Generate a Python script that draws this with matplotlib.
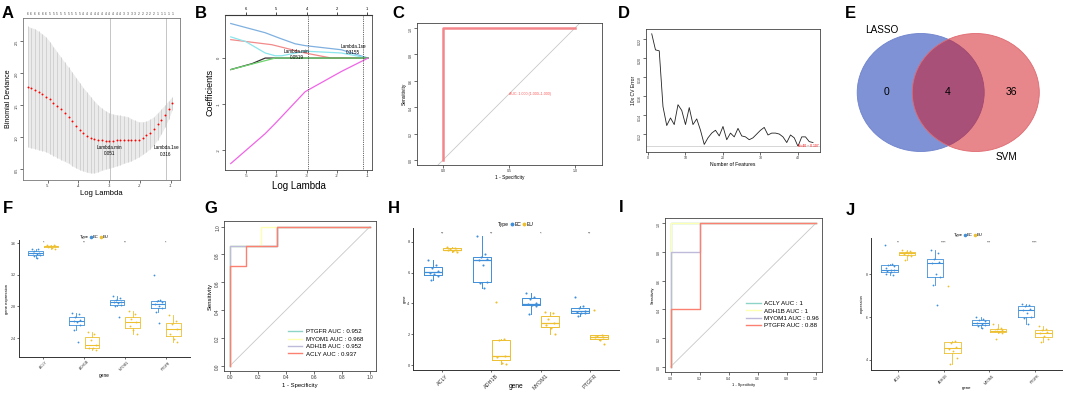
import numpy as np
import matplotlib
matplotlib.use("Agg")
import matplotlib.pyplot as plt
from matplotlib.patches import Ellipse
from matplotlib.lines import Line2D
import matplotlib.transforms as mtransforms

plt.rcParams['font.family'] = ['Liberation Sans', 'DejaVu Sans']
plt.rcParams['axes.unicode_minus'] = False

# ---------------- data ----------------
# A: cv.glmnet binomial deviance
a_loglam = [-5.65, -5.53, -5.41, -5.29, -5.17, -5.05, -4.93, -4.81, -4.69, -4.57,
            -4.45, -4.32, -4.20, -4.08, -3.96, -3.84, -3.72, -3.60, -3.48, -3.36,
            -3.24, -3.12, -3.00, -2.88, -2.76, -2.64, -2.52, -2.40, -2.28, -2.16,
            -2.04, -1.91, -1.79, -1.67, -1.55, -1.43, -1.31, -1.19, -1.07, -0.95]
a_dev = [1.79, 1.76, 1.73, 1.70, 1.67, 1.63, 1.59, 1.54, 1.49, 1.44,
         1.38, 1.32, 1.25, 1.18, 1.11, 1.06, 1.02, 0.99, 0.97, 0.96,
         0.95, 0.94, 0.94, 0.94, 0.95, 0.96, 0.96, 0.95, 0.95, 0.95,
         0.96, 0.99, 1.03, 1.07, 1.13, 1.20, 1.27, 1.35, 1.44, 1.53]
a_up = [2.73, 2.71, 2.69, 2.65, 2.61, 2.56, 2.49, 2.41, 2.33, 2.25,
        2.17, 2.09, 2.01, 1.93, 1.85, 1.77, 1.70, 1.63, 1.56, 1.50,
        1.45, 1.41, 1.38, 1.36, 1.35, 1.34, 1.33, 1.32, 1.29, 1.26,
        1.24, 1.24, 1.25, 1.28, 1.32, 1.38, 1.44, 1.50, 1.57, 1.63]
a_low = [0.85, 0.83, 0.82, 0.80, 0.79, 0.77, 0.74, 0.71, 0.68, 0.65,
         0.62, 0.59, 0.55, 0.52, 0.49, 0.47, 0.45, 0.44, 0.44, 0.46,
         0.48, 0.50, 0.51, 0.53, 0.55, 0.57, 0.59, 0.61, 0.63, 0.66,
         0.69, 0.73, 0.77, 0.82, 0.88, 0.96, 1.05, 1.16, 1.29, 1.43]
a_nz = [6, 6, 6, 6, 6, 6, 5, 5, 5, 5, 5, 5, 5, 5, 5, 4, 4, 4, 4, 4,
        4, 4, 4, 4, 4, 4, 3, 3, 3, 3, 2, 2, 2, 2, 2, 1, 1, 1, 1, 1]
a_lambda_min, a_lambda_1se = 0.051, 0.316

# B: coefficient paths
b_paths = {
    "blue":    ([-5.51, -4.37, -3.93, -3.38, -3.05, -1.85, -0.97], [0.75, 0.55, 0.44, 0.31, 0.27, 0.18, 0.0]),
    "salmon":  ([-5.51, -4.15, -3.05, -2.18, -0.97], [0.40, 0.29, 0.11, 0.0, 0.0]),
    "cyan":    ([-5.51, -5.02, -4.37, -4.04, -3.82, -3.05, -1.85, -0.97], [0.46, 0.36, 0.11, 0.05, 0.05, 0.15, 0.11, 0.0]),
    "black":   ([-5.51, -4.80, -4.37, -0.97], [-0.25, -0.12, 0.0, 0.0]),
    "green":   ([-5.51, -4.04, -0.97], [-0.25, 0.0, 0.0]),
    "magenta": ([-5.51, -4.37, -4.04, -3.05, -1.85, -0.97], [-2.29, -1.64, -1.42, -0.73, -0.29, 0.0]),
}
b_colors = {"blue": "#7FB0E0", "salmon": "#F28A8A", "cyan": "#8BE6EE",
            "black": "#333333", "green": "#6FD66F", "magenta": "#F064E6"}
b_top_ticks = [-5, -4, -3, -2, -1]
b_top_labels = ["6", "5", "4", "2", "1"]
b_lambda_min, b_lambda_1se = 0.0519, 0.3155

# C: ROC
c_fpr = [0.0, 0.0, 1.0]
c_tpr = [0.0, 1.0, 1.0]
c_auc = "AUC: 1.000 (1.000\u20131.000)"

# D: SVM-RFE
d_n = list(range(1, 45))
d_err = [0.226, 0.209, 0.208, 0.149, 0.129, 0.137, 0.130, 0.151, 0.145, 0.130,
         0.148, 0.130, 0.136, 0.124, 0.109, 0.116, 0.121, 0.124, 0.118, 0.128,
         0.114, 0.121, 0.117, 0.126, 0.118, 0.117, 0.114, 0.116, 0.120, 0.124,
         0.127, 0.119, 0.121, 0.121, 0.120, 0.117, 0.111, 0.119, 0.116, 0.107,
         0.117, 0.117, 0.112, 0.111]

# E: Venn
e_sets = ["LASSO", "SVM"]
e_counts = [0, 4, 36]

genes = ["ACLY", "ADH1B", "MYOM1", "PTGFR"]

# F
f_ec = [[3.53, 3.52, 3.50, 3.47, 3.47, 3.46, 3.45, 3.43, 3.41],
        [2.72, 2.70, 2.66, 2.63, 2.61, 2.60, 2.57, 2.50, 2.35],
        [2.93, 2.90, 2.88, 2.86, 2.85, 2.84, 2.82, 2.80, 2.66],
        [3.19, 2.88, 2.87, 2.85, 2.83, 2.80, 2.78, 2.73, 2.59]]
f_eu = [[3.58, 3.57, 3.56, 3.56, 3.55, 3.54, 3.53],
        [2.48, 2.45, 2.37, 2.31, 2.28, 2.27, 2.25],
        [2.74, 2.70, 2.64, 2.60, 2.55, 2.50, 2.45],
        [2.69, 2.61, 2.58, 2.52, 2.45, 2.39, 2.35]]
f_sig = ["*", "**", "**", "*"]

# G
g_names = ["PTGFR", "MYOM1", "ADH1B", "ACLY"]
g_auc = ["0.952", "0.968", "0.952", "0.937"]
g_fpr = [[0, 0, 0.333, 0.333, 1], [0, 0, 0.222, 0.222, 1],
         [0, 0, 0.333, 0.333, 1], [0, 0, 0.111, 0.111, 0.333, 0.333, 1]]
g_tpr = [[0, 0.857, 0.857, 1, 1], [0, 0.857, 0.857, 1, 1],
         [0, 0.857, 0.857, 1, 1], [0, 0.714, 0.714, 0.857, 0.857, 1, 1]]
roc_colors = ["#8DD3C7", "#FFFFB3", "#BEBADA", "#FB8072"]

# H
h_ec = [[6.8, 6.5, 6.3, 6.1, 6.0, 5.9, 5.8, 5.5],
        [8.4, 7.2, 7.0, 6.9, 6.85, 6.5, 5.4, 5.3, 5.0],
        [4.7, 4.4, 4.3, 4.0, 3.95, 3.9, 3.85, 3.3],
        [4.45, 3.85, 3.7, 3.5, 3.46, 3.4, 3.36, 3.2]]
h_eu = [[7.65, 7.6, 7.55, 7.5, 7.5, 7.4, 7.35],
        [4.1, 1.7, 1.6, 0.6, 0.55, 0.15, 0.1],
        [3.42, 3.35, 3.0, 2.7, 2.6, 2.4, 2.0],
        [3.6, 1.97, 1.9, 1.85, 1.8, 1.65, 1.4]]
h_sig = ["**", "**", "*", "**"]

# I
i_names = ["ACLY", "ADH1B", "MYOM1", "PTGFR"]
i_auc = ["1", "1", "0.96", "0.88"]
i_fpr = [[0, 0, 1], [0, 0, 1], [0, 0, 0.2, 0.2, 1], [0, 0, 0.2, 0.2, 1]]
i_tpr = [[0, 1, 1], [0, 1, 1], [0, 0.8, 0.8, 1, 1], [0, 0.4, 0.4, 1, 1]]

# J
j_ec = [[9.37, 8.5, 8.45, 8.4, 8.3, 8.2, 8.2, 8.15, 8.1, 8.0, 7.95],
        [9.13, 9.0, 8.7, 8.6, 8.54, 8.0, 7.9, 7.5, 6.57],
        [6.0, 5.9, 5.85, 5.8, 5.75, 5.7, 5.65, 5.6, 5.5],
        [6.63, 6.55, 6.5, 6.4, 6.35, 6.2, 6.0, 5.95, 5.7]]
j_eu = [[9.15, 9.1, 9.05, 9.0, 8.96, 8.9, 8.85, 8.65],
        [7.47, 4.9, 4.8, 4.6, 4.5, 4.4, 4.1, 3.8],
        [5.7, 5.5, 5.45, 5.4, 5.35, 5.3, 5.25, 5.0],
        [5.6, 5.45, 5.4, 5.3, 5.25, 5.1, 5.0, 4.85]]
j_sig = ["**", "****", "***", "****"]

EC = "#3F8FDB"
EU = "#EEBF2F"

# ---------------- figure ----------------
W, H = 1065, 393
fig = plt.figure(figsize=(W / 100, H / 100), dpi=100)


def box(l, t, r, b):
    return fig.add_axes([l / W, 1 - b / H, (r - l) / W, (b - t) / H])


def rstyle(ax, fs, col="#444444"):
    for s in ax.spines.values():
        s.set_linewidth(0.6)
        s.set_color(col)
    ax.tick_params(length=2, width=0.5, labelsize=fs, pad=1, colors="#333333")
    ax.tick_params(axis="y", labelrotation=90)


def ggstyle(ax, fs_x, fs_y):
    for s in ["top", "right"]:
        ax.spines[s].set_visible(False)
    for s in ["left", "bottom"]:
        ax.spines[s].set_linewidth(0.7)
        ax.spines[s].set_color("#333333")
    ax.tick_params(length=1.5, width=0.5, pad=1, colors="#333333")
    ax.tick_params(axis="x", labelsize=fs_x)
    ax.tick_params(axis="y", labelsize=fs_y)


jit = [-0.10, 0.06, -0.03, 0.09, -0.07, 0.02, 0.10, -0.05, 0.04, -0.09, 0.07]


def ggbox(ax, ec, eu, sig, sig_y, ms, lw, fs_sig, leg_x, fs_leg):
    for gi in range(len(genes)):
        for vals, col, off in ((ec[gi], EC, -0.19), (eu[gi], EU, 0.19)):
            p = gi + 1 + off
            ax.boxplot(vals, positions=[p], widths=0.36, showfliers=False,
                       manage_ticks=False,
                       boxprops=dict(color=col, lw=lw),
                       whiskerprops=dict(color=col, lw=lw),
                       capprops=dict(lw=0),
                       medianprops=dict(color=col, lw=lw * 1.3))
            ax.plot([p + jit[k] for k in range(len(vals))], vals, ls="none",
                    marker="o", ms=ms, color=col, mew=0)
        ax.text(gi + 1, sig_y, sig[gi], ha="center", va="center",
                fontsize=fs_sig, color="#333333")
    ax.set_xlim(0.4, 4.6)
    ax.set_xticks(range(1, 5))
    ax.set_xticklabels(genes, rotation=45, ha="center")
    handles = [Line2D([], [], ls="none", label="Type"),
               Line2D([], [], ls="none", marker="o", ms=ms * 1.2, color=EC, label="EC"),
               Line2D([], [], ls="none", marker="o", ms=ms * 1.2, color=EU, label="EU")]
    ax.legend(handles=handles, ncol=3, loc="lower center",
              bbox_to_anchor=(leg_x, 1.0), frameon=False, fontsize=fs_leg,
              handlelength=0.5, handletextpad=0.2, columnspacing=0.3,
              borderaxespad=0.1, borderpad=0.1)


# panel letters
for s, (x, y) in {"A": (2, 18), "B": (195, 18), "C": (392, 18), "D": (618, 18),
                  "E": (845, 18), "F": (3, 213), "G": (204, 213), "H": (388, 213),
                  "I": (619, 212), "J": (846, 215)}.items():
    fig.text(x / W, 1 - y / H, s, fontsize=12, fontweight="bold", va="baseline")

# ---- A ----
ax = box(23, 18, 180, 180)
a_dev_arr = np.array(a_dev)
ax.fill_between(a_loglam, a_low, a_up, color="#EBEBEB", lw=0)
ax.errorbar(a_loglam, a_dev, yerr=[a_dev_arr - np.array(a_low), np.array(a_up) - a_dev_arr],
            fmt="o", ms=1.4, mew=0, color="red", ecolor="#D2D2D2",
            elinewidth=0.7, capsize=1.6, capthick=0.8, zorder=3)
ax.axvline(np.log(a_lambda_min), color="#BBBBBB", lw=0.6)
ax.axvline(np.log(a_lambda_1se), color="#BBBBBB", lw=0.6)
ax.text(np.log(a_lambda_min), 0.79, "Lambda.min\n%.3f" % a_lambda_min, ha="center",
        va="center", fontsize=3.3, linespacing=1.4)
ax.text(np.log(a_lambda_1se), 0.78, "Lambda.1se\n%.3f" % a_lambda_1se, ha="center",
        va="center", fontsize=3.3, linespacing=1.4)
trans = mtransforms.blended_transform_factory(ax.transData, ax.transAxes)
for x, n in zip(a_loglam, a_nz):
    ax.text(x, 1.012, str(n), transform=trans, fontsize=2.4, ha="center", va="bottom",
            color="#444444")
ax.set_xlim(-5.8, -0.7)
ax.set_ylim(0.33, 2.86)
ax.set_xticks([-5, -4, -3, -2, -1])
ax.set_yticks([0.5, 1.0, 1.5, 2.0, 2.5])
ax.set_yticklabels(["0.5", "1.0", "1.5", "2.0", "2.5"])
rstyle(ax, 2.8, "#777777")
ax.set_xlabel("Log Lambda", fontsize=5.5, labelpad=1.5)
ax.set_ylabel("Binomial Deviance", fontsize=5, labelpad=2)

# ---- B ----
ax = box(225, 15, 372, 170)
for k, (xs, ys) in b_paths.items():
    ax.plot(xs, ys, color=b_colors[k], lw=0.9)
ax.axvline(np.log(b_lambda_min), color="#333333", lw=0.6, ls=(0, (1, 1.2)))
ax.axvline(np.log(b_lambda_1se), color="#333333", lw=0.6, ls=(0, (1, 1.2)))
ax.text(-3.33, 0.076, "Lambda.min\n%.4f" % b_lambda_min, ha="center", va="center",
        fontsize=3.3, linespacing=1.4)
ax.text(-1.46, 0.185, "Lambda.1se\n%.4f" % b_lambda_1se, ha="center", va="center",
        fontsize=3.3, linespacing=1.4)
ax.set_xlim(-5.7, -0.84)
ax.set_ylim(-2.43, 0.935)
ax.set_xticks([-5, -4, -3, -2, -1])
ax.set_yticks([-2, -1, 0])
rstyle(ax, 3)
sec = ax.secondary_xaxis("top")
sec.set_xticks(b_top_ticks)
sec.set_xticklabels(b_top_labels)
sec.tick_params(length=2, width=0.5, labelsize=3, pad=1)
ax.set_xlabel("Log Lambda", fontsize=7, labelpad=2)
ax.set_ylabel("Coefficients", fontsize=6.5, labelpad=2)

# ---- C ----
ax = box(417, 23, 602, 165)
ax.axline((0, 0), slope=1, color="#C8C8C8", lw=0.6)
ax.plot(c_fpr, c_tpr, color="#F4868A", lw=1.8)
ax.text(0.5, 0.5, c_auc, ha="left", va="center", fontsize=2.6, color="#FF5555")
ax.set_xlim(-0.197, 1.205)
ax.set_ylim(-0.038, 1.038)
ax.set_xticks([0, 0.5, 1.0])
ax.set_xticklabels(["0.0", "0.5", "1.0"])
ax.set_yticks([0, 0.2, 0.4, 0.6, 0.8, 1.0])
ax.set_yticklabels(["0.0", "0.2", "0.4", "0.6", "0.8", "1.0"])
rstyle(ax, 2.6)
ax.set_xlabel("1 - Specificity", fontsize=3.5, labelpad=1.5)
ax.set_ylabel("Sensitivity", fontsize=3.5, labelpad=1.5)

# ---- D ----
ax = box(646, 29, 820, 152)
ax.plot(d_n, d_err, color="#222222", lw=0.6)
imin = int(np.argmin(d_err))
ax.axhline(d_err[imin], color="#D0D0D0", lw=0.6)
ax.text(d_n[imin], d_err[imin], "N=%d ~ %.3f" % (d_n[imin], d_err[imin]), ha="left",
        va="center", fontsize=2.4, color="red")
ax.set_xlim(-0.53, 45.87)
ax.set_ylim(0.101, 0.2311)
ax.set_xticks([0, 10, 20, 30, 40])
ax.set_yticks([0.12, 0.14, 0.16, 0.18, 0.20, 0.22])
ax.set_yticklabels(["0.12", "0.14", "0.16", "0.18", "0.20", "0.22"])
rstyle(ax, 2.6)
ax.set_xlabel("Number of Features", fontsize=3.6, labelpad=1.5)
ax.set_ylabel("10x CV Error", fontsize=3.6, labelpad=1.5)

# ---- E ----
ax = box(840, 0, 1065, 195)
ax.set_xlim(840, 1065)
ax.set_ylim(195, 0)
ax.axis("off")
ax.add_patch(Ellipse((920.7, 92.5), 127, 118, facecolor="#7F92D6", edgecolor="#6F83CC", lw=0.6))
ax.add_patch(Ellipse((975.8, 92.5), 127, 118, facecolor=(209/255, 15/255, 25/255, 0.5),
                     edgecolor="#E06A70", lw=0.6))
ax.text(886, 92, str(e_counts[0]), ha="center", va="center", fontsize=7.5)
ax.text(947.5, 92, str(e_counts[1]), ha="center", va="center", fontsize=7.5)
ax.text(1011, 92, str(e_counts[2]), ha="center", va="center", fontsize=7.5)
ax.text(882, 30, e_sets[0], ha="center", va="center", fontsize=7.2)
ax.text(1006, 157, e_sets[1], ha="center", va="center", fontsize=7.2)

# ---- F ----
ax = box(19, 240, 190, 357)
ggbox(ax, f_ec, f_eu, f_sig, 3.6, 1.3, 0.6, 2.6, 0.43, 3.0)
ax.set_ylim(2.16, 3.638)
ax.set_yticks([2.4, 2.8, 3.2, 3.6])
ggstyle(ax, 2.4, 2.6)
ax.set_xlabel("gene", fontsize=3.4, labelpad=0.5)
ax.set_ylabel("gene expression", fontsize=3.0, labelpad=1)

# ---- G ----
ax = box(224.4, 221, 375.6, 371.3)
ax.plot([0, 1], [0, 1], color="#C8C8C8", lw=0.6)
for k in range(4):
    ax.plot(g_fpr[k], g_tpr[k], color=roc_colors[k], lw=1.0,
            label="%s AUC : %s" % (g_names[k], g_auc[k]))
ax.legend(loc="center left", bbox_to_anchor=(0.42, 0.19), frameon=False, fontsize=4.4,
          handlelength=2.3, handletextpad=0.6, labelspacing=0.35, borderpad=0,
          borderaxespad=0)
ax.set_xlim(-0.04, 1.04)
ax.set_ylim(-0.04, 1.04)
tk = [0, 0.2, 0.4, 0.6, 0.8, 1.0]
tl = ["0.0", "0.2", "0.4", "0.6", "0.8", "1.0"]
ax.set_xticks(tk)
ax.set_xticklabels(tl)
ax.set_yticks(tk)
ax.set_yticklabels(tl)
rstyle(ax, 3.4)
ax.set_xlabel("1 - Specificity", fontsize=4.2, labelpad=1.5)
ax.set_ylabel("Sensitivity", fontsize=4.2, labelpad=2)

# ---- H ----
ax = box(413, 228, 619, 370)
ggbox(ax, h_ec, h_eu, h_sig, 8.5, 1.5, 0.7, 3.0, 0.49, 3.6)
ax.set_ylim(-0.32, 8.9)
ax.set_yticks([0, 2, 4, 6, 8])
ggstyle(ax, 3.9, 2.8)
ax.set_xlabel("gene", fontsize=4.8, labelpad=0)
ax.xaxis.set_label_coords(0.5, -0.09)
ax.set_ylabel("gene", fontsize=2.8, labelpad=0.5)

# ---- I ----
ax = box(664.9, 217.6, 821.5, 372.4)
ax.plot([0, 1], [0, 1], color="#C8C8C8", lw=0.6)
for k in range(4):
    ax.plot(i_fpr[k], i_tpr[k], color=roc_colors[k], lw=1.0,
            label="%s AUC : %s" % (i_names[k], i_auc[k]))
ax.legend(loc="center left", bbox_to_anchor=(0.52, 0.374), frameon=False, fontsize=4.5,
          handlelength=2.3, handletextpad=0.5, labelspacing=0.3, borderpad=0,
          borderaxespad=0)
ax.set_xlim(-0.04, 1.04)
ax.set_ylim(-0.04, 1.04)
ax.set_xticks(tk)
ax.set_xticklabels(tl)
ax.set_yticks(tk)
ax.set_yticklabels(tl)
rstyle(ax, 2.5)
ax.set_xlabel("1 - Specificity", fontsize=2.8, labelpad=1.5)
ax.set_ylabel("Sensitivity", fontsize=2.8, labelpad=1.5)

# ---- J ----
ax = box(871, 238, 1062, 370)
ggbox(ax, j_ec, j_eu, j_sig, 9.48, 1.3, 0.6, 2.6, 0.5, 3.0)
ax.set_ylim(3.53, 9.70)
ax.set_yticks([4, 6, 8])
ggstyle(ax, 2.5, 2.5)
ax.set_xlabel("gene", fontsize=3.2, labelpad=0.5)
ax.set_ylabel("expression", fontsize=2.8, labelpad=1)

fig.savefig("out.png", dpi=100)
